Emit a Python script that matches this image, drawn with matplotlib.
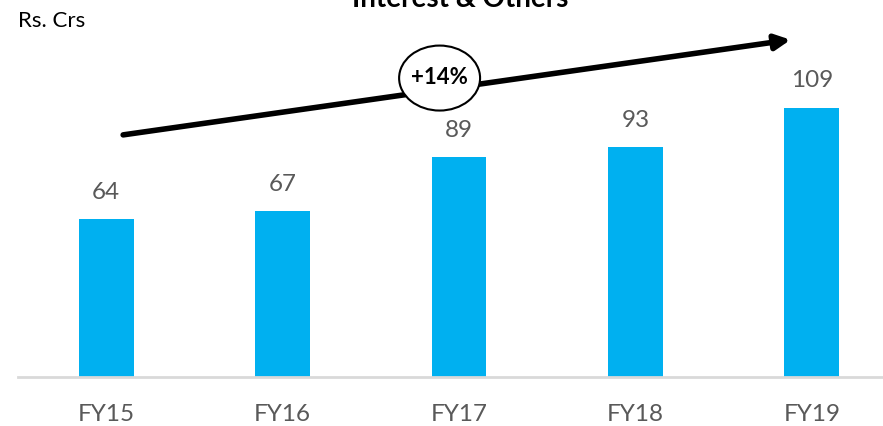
import numpy as np
import matplotlib.pyplot as plt
from matplotlib.patches import Ellipse

plt.rcParams['font.family'] = ['Lato', 'DejaVu Sans']

years = ['FY15', 'FY16', 'FY17', 'FY18', 'FY19']
values = [64, 67, 89, 93, 109]

bar_color = '#00B0F0'
text_gray = '#595959'

fig = plt.figure(figsize=(8.83, 4.27), dpi=100)
# axes spans a little past the right edge, like the original slide
ax = fig.add_axes([18 / 883, 49 / 427, 882 / 883, 378 / 427])

x = np.arange(len(years))
ax.bar(x, values, width=0.31, color=bar_color)
for xi, v in zip(x, values):
    ax.text(xi, v + 7, str(v), ha='center', va='bottom', fontsize=17.5, color=text_gray)

ax.set_xlim(-0.5, len(years) - 0.5)
ax.set_ylim(0, 153)
ax.set_xticks(x)
ax.set_xticklabels(years, fontsize=17.5, color=text_gray)
ax.tick_params(axis='x', length=0, pad=19)
ax.set_yticks([])
for s in ['top', 'right', 'left']:
    ax.spines[s].set_visible(False)
ax.spines['bottom'].set_color('#d9d9d9')
ax.spines['bottom'].set_linewidth(2)
ax.patch.set_alpha(0)

## growth arrow ###################################
ax.annotate('', xy=(3.88, 136.5), xytext=(0.096, 98),
            arrowprops=dict(arrowstyle='-|>,head_length=0.9,head_width=0.45',
                            lw=4, color='black', shrinkA=0, shrinkB=0),
            annotation_clip=False)
ax.add_patch(Ellipse((1.89, 121), 0.459, 26.3, facecolor='white',
                     edgecolor='black', lw=1.5, zorder=5, clip_on=False))
ax.text(1.89, 121.5, '+14%', ha='center', va='center', fontsize=16,
        fontweight='bold', color='black', zorder=6)

fig.text(18 / 883, 1 - 11 / 427, 'Rs. Crs', ha='left', va='top', fontsize=16, color='black')
fig.text(460 / 883, 1 - 7 / 427, 'Interest & Others', ha='center', va='baseline',
         fontsize=20, fontweight='bold', color='black')

plt.savefig('out.png', dpi=100)
plt.close()
